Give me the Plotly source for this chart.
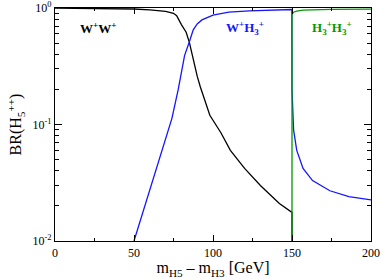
import plotly.graph_objects as go

# Data
ww_x = [0, 25, 40, 50, 60, 70, 75, 77, 80, 83, 85, 87.5, 90, 92, 95, 98, 105, 111, 120, 130, 142, 150, 150]
ww_y = [0.998, 0.995, 0.99, 0.98, 0.965, 0.935, 0.9, 0.86, 0.72, 0.62, 0.51, 0.36, 0.26, 0.21, 0.16, 0.12,
        0.085, 0.06, 0.042, 0.03, 0.021, 0.0176, 0.001]

wh_x = [50, 55, 60, 65, 70, 74, 78, 80, 82, 85, 87.5, 90, 93, 100, 110, 123, 135, 149.9, 150, 150.5, 151,
        153, 157, 163, 174, 186, 200]
wh_y = [0.01, 0.0165, 0.027, 0.045, 0.074, 0.113, 0.2, 0.27, 0.39, 0.51, 0.65, 0.73, 0.79, 0.87, 0.92, 0.945,
        0.96, 0.97, 0.2, 0.12, 0.09, 0.06, 0.042, 0.033, 0.027, 0.024, 0.0225]

hh_x = [150, 150, 151, 153, 157, 163, 175, 200]
hh_y = [0.001, 0.88, 0.92, 0.94, 0.958, 0.967, 0.973, 0.977]

x_ticks = [0, 50, 100, 150, 200]
y_ticks = [0.01, 0.1, 1]
y_ticktext = ["10<sup>-2</sup>", "10<sup>-1</sup>", "10<sup>0</sup>"]

font_family = "Liberation Serif"

fig = go.Figure()
fig.add_trace(go.Scatter(x=ww_x, y=ww_y, mode="lines", line=dict(color="black", width=1.3), showlegend=False))
fig.add_trace(go.Scatter(x=wh_x, y=wh_y, mode="lines", line=dict(color="#1515ff", width=1.3), showlegend=False))
fig.add_trace(go.Scatter(x=hh_x, y=hh_y, mode="lines", line=dict(color="#009a00", width=1.3), showlegend=False))

labels = [
    (98, "W<sup>+</sup>W<sup>+</sup>", "black"),
    (245, "W<sup>+</sup>H<sub>3</sub><sup>+</sup>", "#1515ff"),
    (332, "H<sub>3</sub><sup>+</sup>H<sub>3</sub><sup>+</sup>", "#009a00"),
]
for px, txt, col in labels:
    fig.add_annotation(x=(px - 55) / 1.58, y=-0.17, text="<b>" + txt + "</b>", showarrow=False,
                       xref="x", yref="y", font=dict(family=font_family, size=13, color=col))

fig.update_layout(
    width=382, height=279,
    margin=dict(l=55, r=11, t=8, b=38),
    paper_bgcolor="white", plot_bgcolor="white",
    font=dict(family=font_family, size=12, color="black"),
)
fig.update_xaxes(
    range=[0, 200], tickvals=x_ticks, ticks="inside", ticklen=6, tickcolor="black",
    showline=True, linecolor="black", linewidth=1.2, mirror="allticks", showgrid=False, zeroline=False,
    minor=dict(ticks="inside", ticklen=3, dtick=25, tickcolor="black", showgrid=False),
    tickfont=dict(size=12), automargin=False,
    title=dict(text="m<sub>H5</sub> \u2013 m<sub>H3</sub> [GeV]", font=dict(size=16), standoff=0),
)
fig.update_yaxes(
    type="log", range=[-2, 0], tickvals=y_ticks, ticktext=y_ticktext, ticks="inside", ticklen=7, tickcolor="black",
    showline=True, linecolor="black", linewidth=1.2, mirror="allticks", showgrid=False, zeroline=False,
    minor=dict(ticks="inside", ticklen=4, dtick="D1", tickcolor="black", showgrid=False),
    tickfont=dict(size=12), automargin=False,
    title=dict(text="BR(H<sub>5</sub><sup>++</sup>)", font=dict(size=16), standoff=6),
)

fig.write_html("out.html", config={"displayModeBar": False},
               post_script="document.body.style.margin='0';document.body.style.overflow='hidden';")
